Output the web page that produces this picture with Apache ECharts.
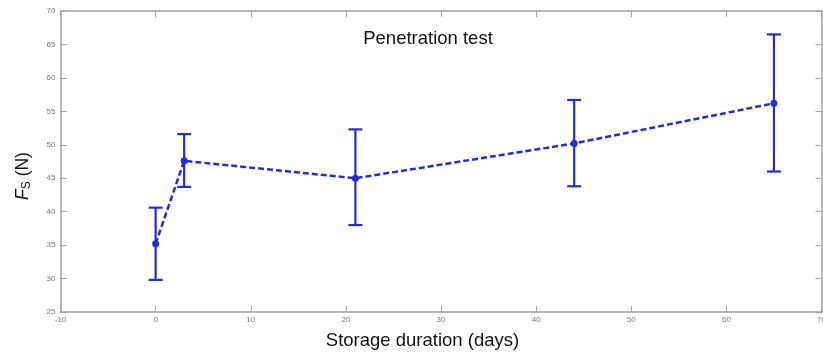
<!DOCTYPE html>
<html><head><meta charset="utf-8">
<script src="https://cdn.jsdelivr.net/npm/echarts@6/dist/echarts.min.js"></script>
<style>html,body{margin:0;padding:0;background:#fff}#c{width:823px;height:355px}</style>
</head><body><div id="c"></div>
<script>
const days = [0, 3, 21, 44, 65];
const meanFs = [35.2, 47.6, 45.0, 50.2, 56.2];
const upperFs = [40.6, 51.6, 52.3, 56.7, 66.5];
const lowerFs = [29.8, 43.7, 38.0, 43.8, 46.0];
const xTicks = [-10, 0, 10, 20, 30, 40, 50, 60, 70];
const yTicks = [25, 30, 35, 40, 45, 50, 55, 60, 65, 70];

const blue = '#1f2ed8';
const axisGray = '#a0a0a0';
const font = 'Liberation Sans, Arial';
const chart = echarts.init(document.getElementById('c'));

const lineData = days.map((d, i) => [d, meanFs[i]]);
const errData = days.map((d, i) => [d, lowerFs[i], upperFs[i]]);

const baseAxis = {
  axisLine: {show: true, onZero: false, lineStyle: {color: axisGray, width: 1.5}},
  axisTick: {show: true, inside: true, length: 6, lineStyle: {color: axisGray}},
  splitLine: {show: false}
};

chart.setOption({
  animation: false,
  title: {text: 'Penetration test', left: 423, top: 24, textAlign: 'center',
    textStyle: {fontFamily: font, fontSize: 18.5, fontWeight: 'normal', color: '#111'}},
  grid: {left: 60.5, right: 1.5, top: 11, bottom: 43, outerBoundsMode: 'none'},
  xAxis: [
    Object.assign({}, baseAxis, {type: 'value', min: xTicks[0], max: xTicks[xTicks.length - 1], interval: 10, position: 'bottom',
      axisLabel: {fontSize: 8, color: '#777', margin: 4, fontFamily: font}}),
    Object.assign({}, baseAxis, {type: 'value', min: xTicks[0], max: xTicks[xTicks.length - 1], interval: 10, position: 'top',
      axisLabel: {show: false}})
  ],
  yAxis: [
    Object.assign({}, baseAxis, {type: 'value', min: yTicks[0], max: yTicks[yTicks.length - 1], interval: 5, position: 'left',
      axisLabel: {fontSize: 8, color: '#777', margin: 5, fontFamily: font}}),
    Object.assign({}, baseAxis, {type: 'value', min: yTicks[0], max: yTicks[yTicks.length - 1], interval: 5, position: 'right',
      axisLabel: {show: false}})
  ],
  graphic: [{
    type: 'text', x: 23, y: 176, rotation: Math.PI / 2,
    style: {
      text: '{i|F}{s|S} (N)', align: 'center', verticalAlign: 'middle',
      fontFamily: font, fontSize: 17.5, fill: '#111',
      rich: {
        i: {fontStyle: 'italic', fontSize: 17.5, fontFamily: font, fill: '#111', color: '#111'},
        s: {fontSize: 12, fontFamily: font, fill: '#111', color: '#111', verticalAlign: 'bottom', padding: [7, 0, 0, 0]}
      }
    }
  }, {
    type: 'text', x: 422.5, y: 331,
    style: {
      text: 'Storage duration (days)', align: 'center', verticalAlign: 'top',
      fontFamily: font, fontSize: 18.5, fill: '#111'
    }
  }],
  series: [
    {
      type: 'custom', xAxisIndex: 0, yAxisIndex: 0,
      data: errData,
      encode: {x: 0, y: [1, 2]},
      renderItem: function (params, api) {
        const x = api.value(0);
        const lo = api.coord([x, api.value(1)]);
        const hi = api.coord([x, api.value(2)]);
        const hw = 7;
        const st = {stroke: blue, lineWidth: 2.2, fill: null};
        return {type: 'group', children: [
          {type: 'line', shape: {x1: lo[0], y1: lo[1], x2: hi[0], y2: hi[1]}, style: st},
          {type: 'line', shape: {x1: lo[0] - hw, y1: lo[1], x2: lo[0] + hw, y2: lo[1]}, style: st},
          {type: 'line', shape: {x1: hi[0] - hw, y1: hi[1], x2: hi[0] + hw, y2: hi[1]}, style: st}
        ]};
      },
      z: 2
    },
    {
      type: 'line', xAxisIndex: 0, yAxisIndex: 0,
      data: lineData,
      lineStyle: {color: blue, width: 2.5, type: [6, 3]},
      itemStyle: {color: blue},
      symbol: 'circle', symbolSize: 7,
      z: 3
    }
  ]
});
</script>
</body></html>
